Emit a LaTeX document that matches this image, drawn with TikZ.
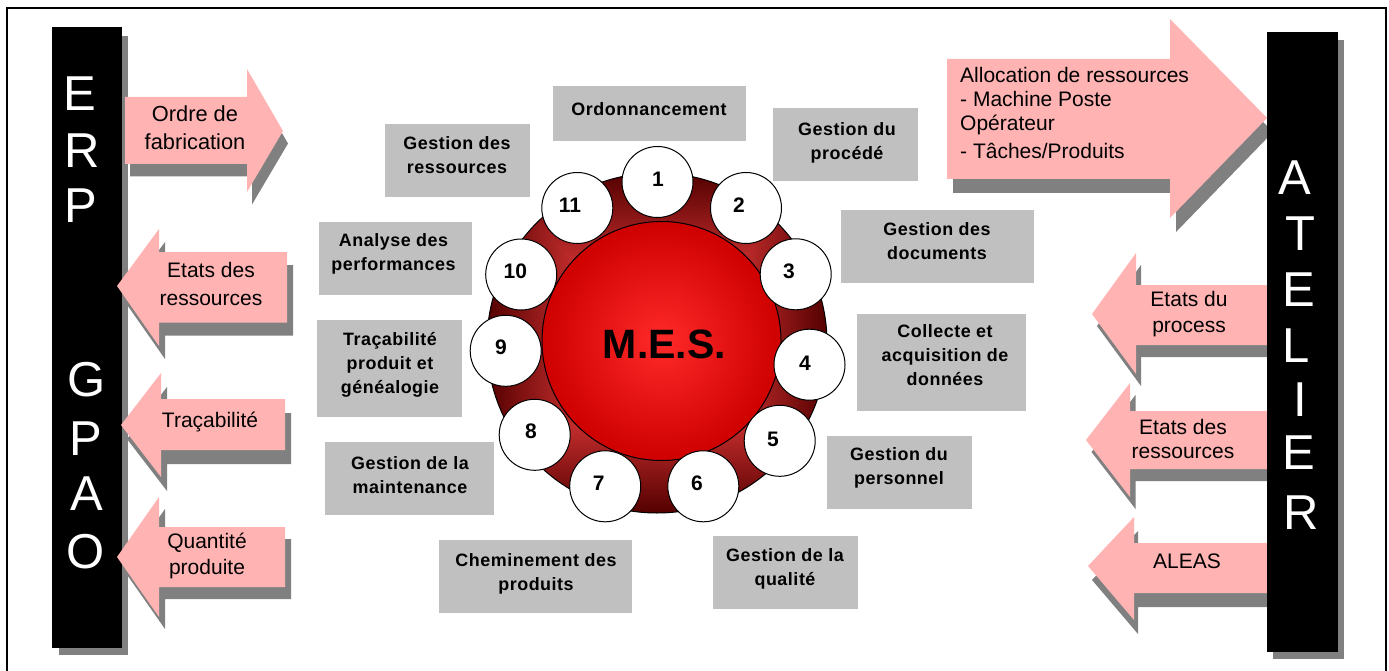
\documentclass[tikz,border=0pt]{standalone}
\usepackage{fontspec}
\setmainfont{Liberation Sans}
\newfontfamily\lblfont[LetterSpace=3,Ligatures=NoCommon]{Liberation Sans Bold}
\usetikzlibrary{calc}
\definecolor{pinkfill}{HTML}{FFB3B3}
\definecolor{shadowgray}{HTML}{808080}
\definecolor{boxgray}{HTML}{C0C0C0}
\definecolor{corecentre}{HTML}{FF2A2A}
\definecolor{coreedge}{HTML}{CE0000}
\pgfdeclarefunctionalshading{ringbox}{\pgfpoint{-50bp}{-50bp}}{\pgfpoint{50bp}{50bp}}{}{
  abs exch abs 2 copy lt {exch} if pop
  25 div
  dup 0.84 mul 1.17 exch sub
  exch 1 exch sub 0.34 mul dup
}
\pgfdeclareradialshading{corebright}{\pgfpoint{0bp}{0bp}}{
  color(0bp)=(corecentre);
  color(25bp)=(coreedge);
  color(50bp)=(coreedge)}
\tikzset{
  x=1pt,y=-1pt,
  barletter/.style={text=white,inner sep=0pt,font=\fontsize{49}{49}\selectfont},
  arrowtext/.style={inner sep=0pt,align=center,text=black},
  greybox/.style={fill=boxgray,draw=none,inner sep=0pt,anchor=north west},
  greytext/.style={inner sep=0pt,align=center,text=black,font=\lblfont\fontsize{17.9}{24}\selectfont},
  numdisc/.style={circle,draw=black,line width=1pt,fill=white,minimum size=71pt,inner sep=0pt},
  numtext/.style={inner sep=0pt,font=\bfseries\fontsize{21}{21}\selectfont}
}
\newcommand{\sharrow}[3]{%
  \fill[shadowgray,shift={(#2,#3)}] #1;
  \fill[pinkfill] #1;}
\newcommand{\gbox}[5]{\node[greybox,minimum width=#4pt-#2pt,minimum height=#5pt-#3pt] (#1) at (#2,#3) {};}
\begin{document}
\begin{tikzpicture}
\useasboundingbox (0,0) rectangle (1389,671);
\fill[white] (0,0) rectangle (1389,671);
\begin{scope}
\clip (0,0) rectangle (1389,671);
\draw[black,line width=2pt] (7,8) rectangle (1385.5,690);
\end{scope}
% left bar
\fill[shadowgray] (59,36) rectangle (128,655);
\node[fill=black,inner sep=0pt,minimum width=70pt,minimum height=621pt] (erp) at (87,337.5) {};
\foreach \n/\l/\xx/\yy in {e1/E/80/93.5,r1/R/82/151,p1/P/81/206,g1/G/87/380,p2/P/85.5/439,a1/A/87/494,o1/O/85.5/552}
  \node[barletter] (\n) at (\xx,\yy) {\l};
% left arrows
\sharrow{(125,97) -- (247,97) -- (247,69) -- (283,131) -- (247,192) -- (247,164) -- (125,164) -- cycle}{5}{12.5}
\sharrow{(287,252) -- (159,252) -- (159,229) -- (117,286) -- (159,346) -- (159,322.5) -- (287,322.5) -- cycle}{6}{13}
\sharrow{(285,399) -- (161,399) -- (161,373) -- (121,425) -- (161,477) -- (161,450) -- (285,450) -- cycle}{6}{14}
\sharrow{(285,527) -- (159,527) -- (159,497) -- (117,557) -- (159,617) -- (159,587) -- (285,587) -- cycle}{6}{12}
\node[arrowtext,font=\fontsize{21.8}{28}\selectfont] (ordre) at (195,127.5) {Ordre de\\fabrication};
\node[arrowtext,font=\fontsize{21}{28}\selectfont] (etres) at (211,284) {Etats des\\ressources};
\node[arrowtext,font=\fontsize{21}{28}\selectfont] (trac) at (210,422) {Traçabilité};
\node[arrowtext,font=\fontsize{21}{26}\selectfont] (quant) at (207,556) {Quantité\\produite};
% right arrows
\sharrow{(947,59) -- (1170,59) -- (1170,19) -- (1267,118) -- (1170,218) -- (1170,179) -- (947,179) -- cycle}{6}{14}
\sharrow{(1267,285) -- (1136,285) -- (1136,253) -- (1092,314) -- (1136,374) -- (1136,345) -- (1267,345) -- cycle}{5}{12}
\sharrow{(1267,411) -- (1130,411) -- (1130,383) -- (1086,440) -- (1130,497) -- (1130,469) -- (1267,469) -- cycle}{5.5}{12}
\sharrow{(1267,543) -- (1134,543) -- (1134,517) -- (1088,566) -- (1134,620) -- (1134,593) -- (1267,593) -- cycle}{4}{14}
\node[arrowtext,anchor=north west,align=left,font=\fontsize{21}{24}\selectfont] (alloc) at (960,67.5) {Allocation de ressources\\- Machine Poste\\Opérateur\\[4pt]- Tâches/Produits};
\node[arrowtext,font=\fontsize{21}{26}\selectfont] (etproc) at (1189,314.5) {Etats du\\process};
\node[arrowtext,font=\fontsize{21}{24}\selectfont] (etres2) at (1183,439) {Etats des\\ressources};
\node[arrowtext,font=\fontsize{21}{24}\selectfont] (aleas) at (1187,561) {ALEAS};
% right bar
\fill[shadowgray] (1273,40) rectangle (1344,659);
\node[fill=black,inner sep=0pt,minimum width=71pt,minimum height=620pt] (atelier) at (1302.5,342) {};
\foreach \n/\l/\xx/\yy in {ra/A/1295/178,rt/T/1300/234,re/E/1299/290,rl/L/1296/346,ri/I/1300/400,rf/E/1299/453,rr/R/1301/513}
  \node[barletter] (\n) at (\xx,\yy) {\l};
% grey boxes
\gbox{b1}{553}{86}{746}{141}
\gbox{b2}{773}{108}{918}{181}
\gbox{b3}{841}{210}{1034}{283}
\gbox{b4}{857}{314}{1026}{411}
\gbox{b5}{827}{436}{972}{509}
\gbox{b6}{713}{536}{858}{609}
\gbox{b7}{439}{540}{632}{613}
\gbox{b8}{325}{442}{494}{515}
\gbox{b9}{317}{320}{462}{417}
\gbox{b10}{319}{222}{472}{295}
\gbox{b11}{385}{124}{530}{197}
\node[greytext] (t1) at (649,109) {Ordonnancement};
\node[greytext] (t2) at (847,142.5) {Gestion du\\procédé};
\node[greytext] (t3) at (937,241) {Gestion des\\documents};
\node[greytext] (t4) at (945,355) {Collecte et\\acquisition de\\données};
\node[greytext] (t5) at (899,468) {Gestion du\\personnel};
\node[greytext] (t6) at (785,569) {Gestion de la\\qualité};
\node[greytext] (t7) at (536,574) {Cheminement des\\produits};
\node[greytext] (t8) at (410,475) {Gestion de la\\maintenance};
\node[greytext] (t9) at (390,365) {Traçabilité\\produit et\\généalogie};
\node[greytext] (t10) at (393.5,254) {Analyse des\\performances};
\node[greytext] (t11) at (457,155) {Gestion des\\ressources};
% disc
\shade[shading=ringbox,draw=black,line width=1pt] (657,343) circle (170);
\shade[shading=corebright,draw=black,line width=1pt] (661.5,341) circle (119.5);
\node[inner sep=0pt,font=\bfseries\fontsize{41}{41}\selectfont] (mes) at (664.5,344) {M.E.S.};
\foreach \i/\xx/\yy/\tx/\ty in {1/657.5/182/658/179,2/746/208/739/205,3/795.7/274.3/789/271,4/809.5/364.7/805/363,5/779.7/440.8/773/439,6/703.3/486.3/697/483,7/605.2/486.3/598.7/483,8/534.7/434.8/531/431,9/505.7/350.8/501/347,10/521.2/274.5/515.3/271,11/577.3/208/570/205}{
  \node[numdisc] (c\i) at (\xx,\yy) {};
  \node[numtext] (n\i) at (\tx,\ty) {\i};
}
\end{tikzpicture}
\end{document}
